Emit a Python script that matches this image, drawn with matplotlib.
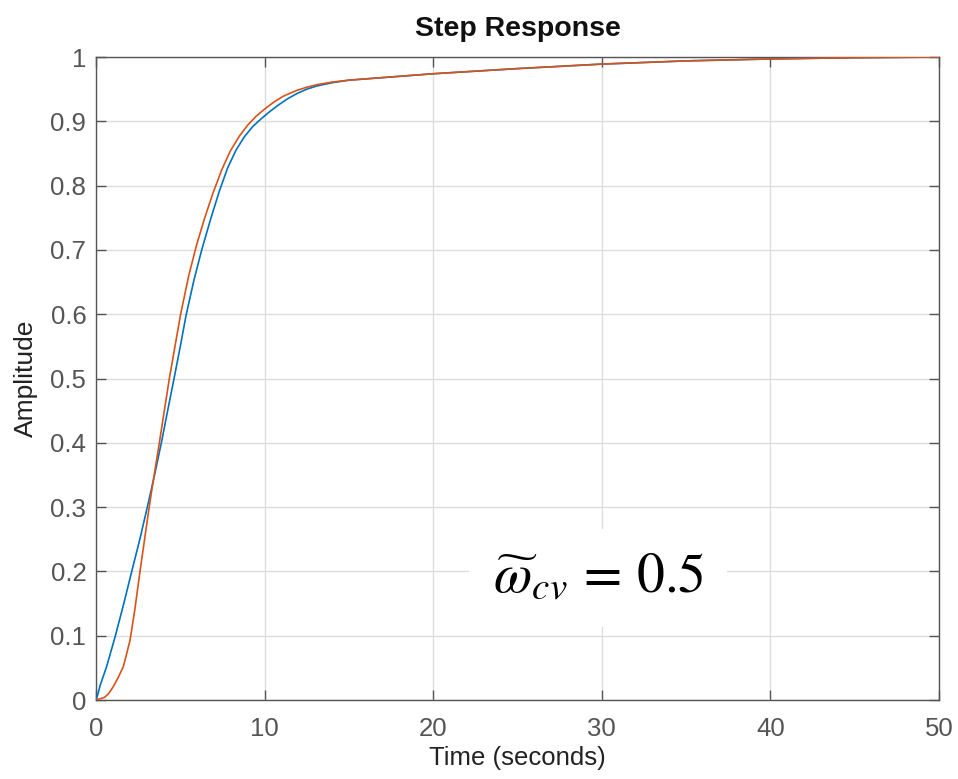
import matplotlib
matplotlib.use('Agg')
import matplotlib.pyplot as plt

plt.rcParams['font.family'] = ['Liberation Sans', 'DejaVu Sans']
plt.rcParams['mathtext.fontset'] = 'stix'

t_blue = [0, 0.1, 0.25, 0.63, 1.13, 1.6, 2.12, 2.6, 3.0, 3.45, 3.9, 4.25, 4.63,
          5.0, 5.34, 5.8, 6.27, 6.8, 7.31, 7.8, 8.3, 8.8, 9.3, 9.8, 10.3, 10.8,
          11.3, 11.9, 12.5, 13.1, 14.0, 15.0, 17.5, 20.0, 25.0, 30.0, 35.0, 40.0,
          45.0, 50.0]
y_blue = [0, 0.008, 0.023, 0.052, 0.098, 0.145, 0.2, 0.25, 0.295, 0.347, 0.403, 0.45, 0.5,
          0.55, 0.598, 0.652, 0.7, 0.748, 0.791, 0.827, 0.855, 0.876, 0.892, 0.904, 0.915,
          0.925, 0.934, 0.943, 0.950, 0.955, 0.960, 0.964, 0.969, 0.974, 0.982, 0.989, 0.994,
          0.997, 0.999, 1.0]

t_orange = [0, 0.5, 0.75, 1.03, 1.3, 1.62, 1.8, 2.02, 2.3, 2.61, 3.1, 3.3, 3.74,
            4.35, 5.02, 5.5, 5.97, 6.45, 6.96, 7.45, 7.95, 8.5, 9.03, 9.5, 10.0,
            10.5, 11.1, 11.9, 12.5, 13.1, 14.0, 15.0, 17.5, 20.0, 25.0, 30.0, 35.0,
            40.0, 45.0, 50.0]
y_orange = [0, 0.004, 0.01, 0.021, 0.034, 0.052, 0.07, 0.093, 0.14, 0.2, 0.29, 0.325, 0.397,
            0.5, 0.6, 0.66, 0.708, 0.75, 0.79, 0.824, 0.853, 0.877, 0.895, 0.908, 0.919,
            0.929, 0.939, 0.948, 0.953, 0.957, 0.961, 0.964, 0.969, 0.974, 0.982, 0.989, 0.994,
            0.997, 0.999, 1.0]

steady_state = 1.0
x_ticks = [0, 10, 20, 30, 40, 50]
y_ticks = [0, 0.1, 0.2, 0.3, 0.4, 0.5, 0.6, 0.7, 0.8, 0.9, 1.0]
y_ticklabels = ['0', '0.1', '0.2', '0.3', '0.4', '0.5', '0.6', '0.7', '0.8', '0.9', '1']

fig = plt.figure(figsize=(9.58, 7.79), dpi=100)
ax = fig.add_axes([0.1002, 0.1014, 0.880, 0.8254])

ax.axhline(steady_state, color='#222222', linestyle=(0, (1, 2.5)), linewidth=1.3, zorder=1)
ax.plot(t_blue, y_blue, color='#0072BD', linewidth=1.2, zorder=3)
ax.plot(t_orange, y_orange, color='#D95319', linewidth=1.2, zorder=4)

ax.set_xlim(0, 50)
ax.set_ylim(0, 1)
ax.set_xticks(x_ticks)
ax.set_yticks(y_ticks)
ax.set_yticklabels(y_ticklabels)
ax.grid(True, color='#dddddd', linewidth=1.0)
ax.set_axisbelow(True)
ax.tick_params(direction='in', length=7, width=1, colors='#555555', labelsize=18.5,
               top=True, right=True, pad=7)
ax.tick_params(axis='x', pad=12)
for s in ax.spines.values():
    s.set_color('#555555')
    s.set_linewidth(1.0)

ax.set_title('Step Response', fontsize=20.5, fontweight='bold', color='#111111', pad=15)
ax.set_xlabel('Time (seconds)', fontsize=18.5, color='#222222', labelpad=4)
ax.set_ylabel('Amplitude', fontsize=19, color='#222222', labelpad=9)

ax.text(29.8, 0.19, r'$\widetilde{\omega}_{cv}\,=\,\mathrm{0.5}$', fontsize=40,
        ha='center', va='center', color='black', zorder=5,
        bbox=dict(boxstyle='square,pad=0.42', fc='white', ec='none'))

fig.savefig('out.png', dpi=100)
